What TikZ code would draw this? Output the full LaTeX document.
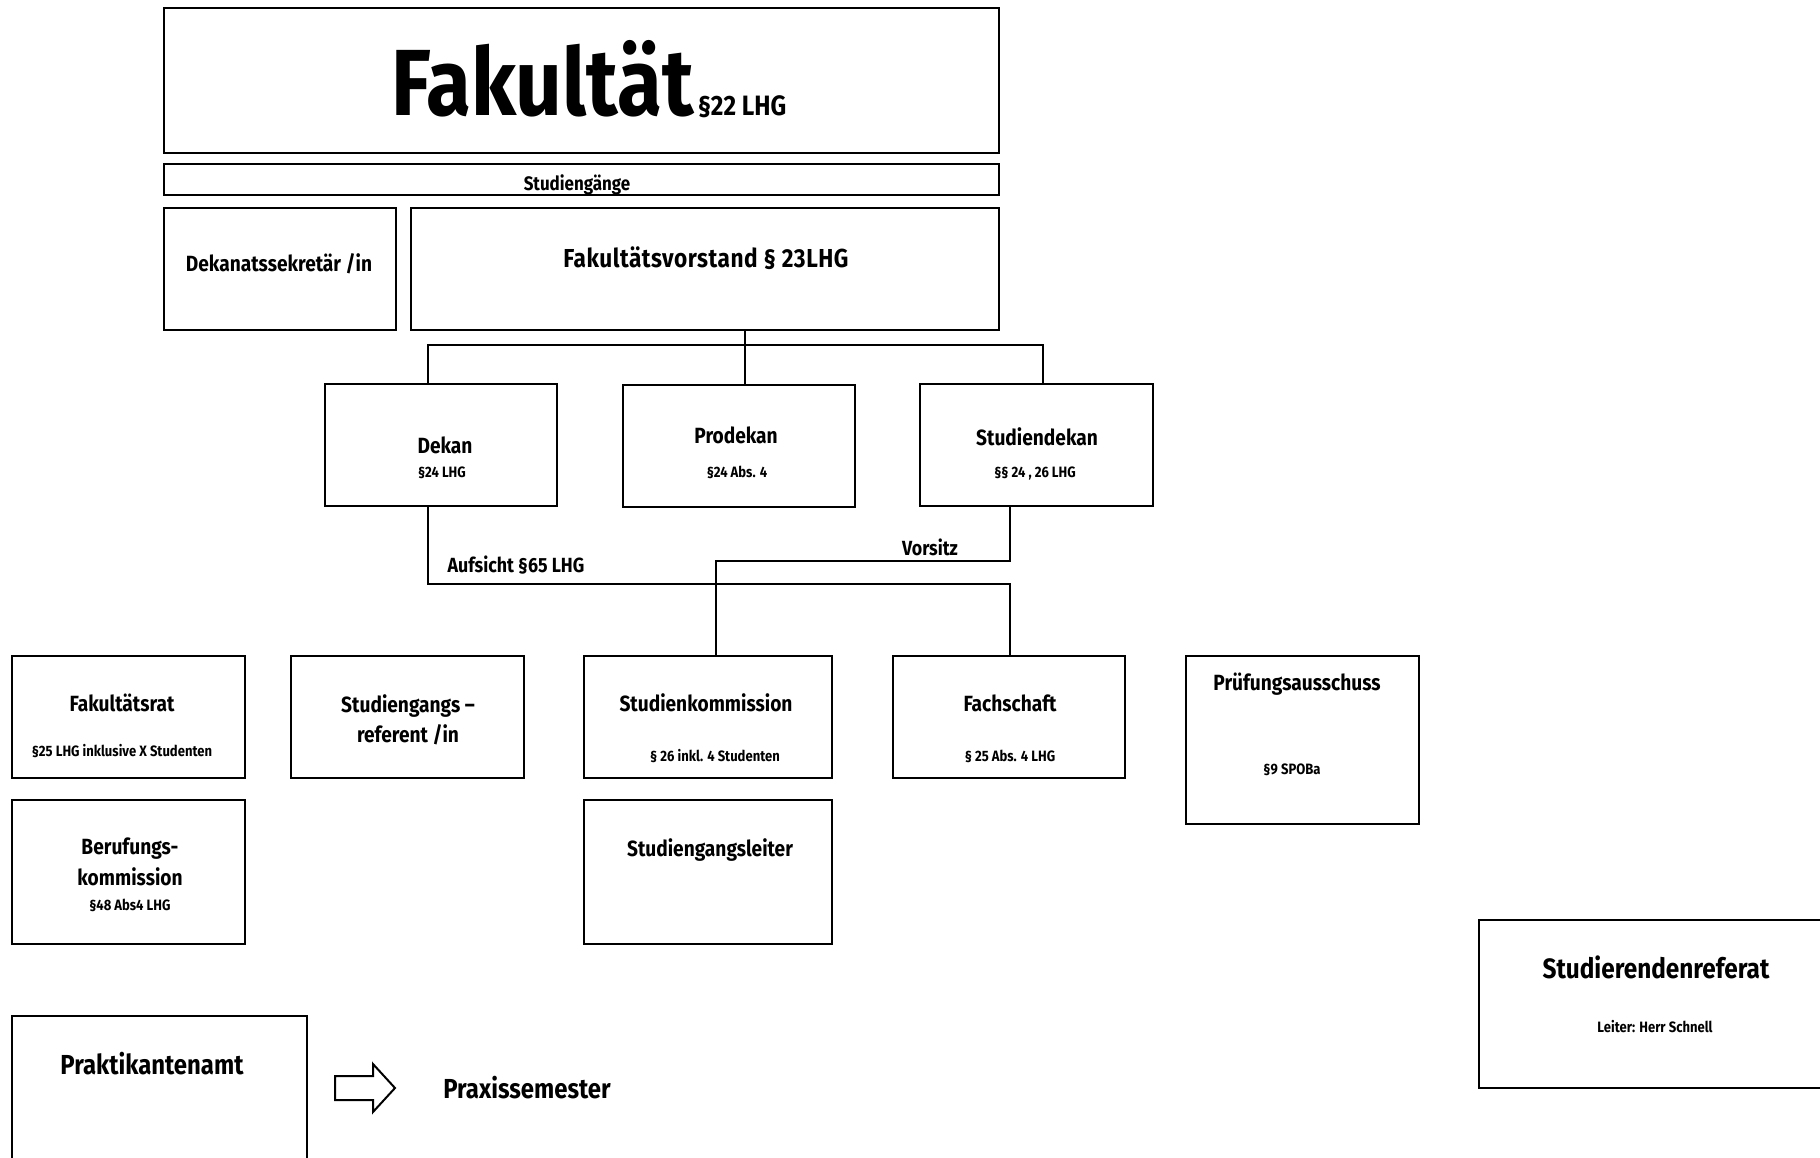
\documentclass[tikz,border=0pt]{standalone}
\usepackage{fontspec}
\setmainfont{Fira Sans}[FakeStretch=0.87]
\begin{document}
\begin{tikzpicture}[x=1pt,y=-1pt,
  orgbox/.style={draw, line width=2pt, inner sep=0pt, outer sep=0pt, anchor=north west},
  conn/.style={line width=2pt},
  lbl/.style={inner sep=0pt, anchor=base, font=\bfseries\fontsize{22}{24}\selectfont},
  big/.style={inner sep=0pt, anchor=base, font=\bfseries\fontsize{28}{30}\selectfont},
  sub/.style={inner sep=0pt, anchor=base, font=\bfseries\fontsize{15}{17}\selectfont}]
\useasboundingbox (0,0) rectangle (1820,1158);
\clip (0,0) rectangle (1820,1158);
\fill[white] (0,0) rectangle (1820,1158);
% boxes
\node[orgbox, minimum width=835pt, minimum height=145pt] (fak) at (164,8) {};
\node[orgbox, minimum width=835pt, minimum height=31pt] (sg) at (164,164) {};
\node[orgbox, minimum width=232pt, minimum height=122pt] (dks) at (164,208) {};
\node[orgbox, minimum width=588pt, minimum height=122pt] (fv) at (411,208) {};
\node[orgbox, minimum width=232pt, minimum height=122pt] (dekan) at (325,384) {};
\node[orgbox, minimum width=232pt, minimum height=122pt] (prodekan) at (623,385) {};
\node[orgbox, minimum width=233pt, minimum height=122pt] (sdekan) at (920,384) {};
\node[orgbox, minimum width=233pt, minimum height=122pt] (frat) at (12,656) {};
\node[orgbox, minimum width=233pt, minimum height=122pt] (sgref) at (291,656) {};
\node[orgbox, minimum width=248pt, minimum height=122pt] (skom) at (584,656) {};
\node[orgbox, minimum width=232pt, minimum height=122pt] (fach) at (893,656) {};
\node[orgbox, minimum width=233pt, minimum height=168pt] (pa) at (1186,656) {};
\node[orgbox, minimum width=233pt, minimum height=144pt] (bk) at (12,800) {};
\node[orgbox, minimum width=248pt, minimum height=144pt] (sgl) at (584,800) {};
\node[orgbox, minimum width=360pt, minimum height=168pt] (sr) at (1479,920) {};
\node[orgbox, minimum width=295pt, minimum height=160pt] (pamt) at (12,1016) {};
% texts
\node[inner sep=0pt, anchor=base] (fakt) at (589,116) {\bfseries\fontsize{94}{96}\selectfont Fakultät\hspace{4pt}{\fontsize{28}{30}\selectfont §22 LHG}};
\node[sub, font=\bfseries\fontsize{19.5}{21}\selectfont] (sgt) at (577,191) {Studiengänge};
\node[lbl] (dkst) at (279,272) {Dekanatssekretär /in};
\node[lbl, font=\bfseries\fontsize{26}{28}\selectfont\addfontfeature{LetterSpace=2}] (fvt) at (706,268) {Fakultätsvorstand § 23LHG};
\node[lbl] (dekant) at (445,453) {Dekan};
\node[sub] (dekans) at (442,477) {§24 LHG};
\node[lbl] (prodekant) at (736,443) {Prodekan};
\node[sub] (prodekans) at (737,477) {§24 Abs. 4};
\node[lbl] (sdekant) at (1037,445) {Studiendekan};
\node[sub] (sdekans) at (1035,477) {§§ 24 , 26 LHG};
\node[lbl, font=\bfseries\fontsize{20.5}{22}\selectfont] (aufs) at (516,572) {Aufsicht §65 LHG};
\node[lbl, font=\bfseries\fontsize{20.5}{22}\selectfont] (vors) at (930,555) {Vorsitz};
\node[lbl] (fratt) at (122,711) {Fakultätsrat};
\node[sub] (frats) at (122,756) {§25 LHG inklusive X Studenten};
\node[lbl] (sgref1) at (408,712) {Studiengangs –};
\node[lbl] (sgref2) at (408,742) {referent /in};
\node[lbl] (skomt) at (706,711) {Studienkommission};
\node[sub] (skoms) at (715,761) {§ 26 inkl. 4 Studenten};
\node[lbl] (facht) at (1010,711) {Fachschaft};
\node[sub] (fachs) at (1010,761) {§ 25 Abs. 4 LHG};
\node[lbl] (pat) at (1297,690) {Prüfungsausschuss};
\node[sub] (pas) at (1292,774) {§9 SPOBa};
\node[lbl] (bk1) at (130,854) {Berufungs-};
\node[lbl] (bk2) at (130,885) {kommission};
\node[sub] (bks) at (130,910) {§48 Abs4 LHG};
\node[lbl] (sglt) at (710,856) {Studiengangsleiter};
\node[big] (srt) at (1656,978) {Studierendenreferat};
\node[sub] (srs) at (1655,1032) {Leiter: Herr Schnell};
\node[big, font=\bfseries\fontsize{27.5}{29}\selectfont] (pamtt) at (152,1074) {Praktikantenamt};
\node[big, font=\bfseries\fontsize{27.5}{29}\selectfont] (praxis) at (527,1098) {Praxissemester};
% connectors
\coordinate (tr) at (745,345);
\coordinate (bl) at (428,345);
\coordinate (br) at (1043,345);
\draw[conn] (tr |- fv.south) -- (tr |- prodekan.north);
\draw[conn] (bl |- dekan.north) -- (bl) -- (br) -- (br |- sdekan.north);
\coordinate (dk) at (428,584);
\coordinate (fx) at (1010,584);
\draw[conn] (dk |- dekan.south) -- (dk) -- (fx) -- (fx |- fach.north);
\coordinate (v1) at (1010,561);
\coordinate (v2) at (716,561);
\draw[conn] (v1 |- sdekan.south) -- (v1) -- (v2) -- (v2 |- skom.north);
% block arrow
\draw[line width=2pt, line join=miter] (335,1076) -- (373,1076) -- (373,1064) -- (395,1088) -- (373,1112) -- (373,1100) -- (335,1100) -- cycle;
\end{tikzpicture}
\end{document}
